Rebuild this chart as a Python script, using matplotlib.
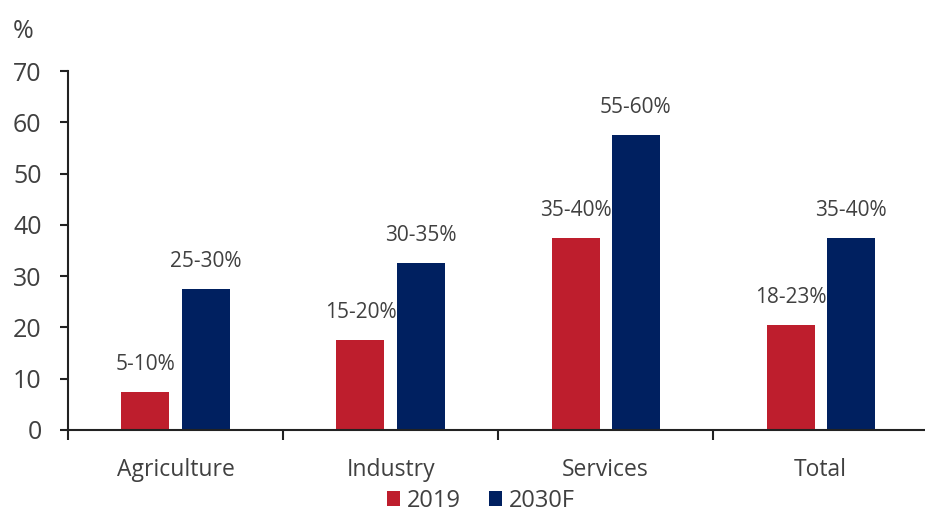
import matplotlib
matplotlib.use("Agg")
import matplotlib.pyplot as plt
import numpy as np

categories = ["Agriculture", "Industry", "Services", "Total"]
series_names = ["2019", "2030F"]
values_2019 = [7.5, 17.5, 37.5, 20.5]
values_2030 = [27.5, 32.5, 57.5, 37.5]
labels_2019 = ["5-10%", "15-20%", "35-40%", "18-23%"]
labels_2030 = ["25-30%", "30-35%", "55-60%", "35-40%"]
yticks = [0, 10, 20, 30, 40, 50, 60, 70]

plt.rcParams['font.family'] = ['Open Sans', 'DejaVu Sans']

fig = plt.figure(figsize=(9.25, 5.16), dpi=100)
ax = fig.add_axes([0.0735, 0.1667, 0.93, 0.6957])

x = np.arange(len(categories))
w = 0.223
off = 0.14
red = "#BE1E2D"
blue = "#002060"
b1 = ax.bar(x - off, values_2019, w, color=red, label=series_names[0])
b2 = ax.bar(x + off, values_2030, w, color=blue, label=series_names[1])

for xi, v, t in zip(x - off, values_2019, labels_2019):
    ax.text(xi, v + 3.3, t, ha="center", va="bottom", fontsize=15, color="#404040")
for xi, v, t in zip(x + off, values_2030, labels_2030):
    ax.text(xi, v + 3.3, t, ha="center", va="bottom", fontsize=15, color="#404040")

ax.set_xlim(-0.5, 3.5)
ax.set_ylim(0, 70)
ax.set_yticks(yticks)
ax.tick_params(axis="y", labelsize=18, colors="#404040", length=6, width=1.5, direction="out", pad=13)
ax.tick_params(axis="y", color="#222222")
ax.set_xticks([-0.5, 0.5, 1.5, 2.5])
ax.set_xticklabels([])
ax.set_xticks(x, minor=True)
ax.set_xticklabels(categories, minor=True)
ax.tick_params(axis="x", which="major", length=7, width=1.5, color="#222222", direction="out")
ax.tick_params(axis="x", which="minor", length=0, labelsize=16.5, labelcolor="#404040", pad=20)

for s in ["top", "right"]:
    ax.spines[s].set_visible(False)
for s in ["left", "bottom"]:
    ax.spines[s].set_linewidth(1.5)
    ax.spines[s].set_color("#222222")

fig.text(0.014, 0.915, "%", fontsize=18, color="#404040", ha="left", va="bottom")

leg = fig.legend(handles=[b1, b2], labels=series_names, loc="lower center",
                 bbox_to_anchor=(0.52, 0.006), ncol=2, frameon=False,
                 fontsize=17, handlelength=0.55, handleheight=0.65,
                 handletextpad=0.3, columnspacing=1.2, labelcolor="#404040",
                 borderaxespad=0.0, borderpad=0.0)

fig.savefig("out.png", dpi=100)
